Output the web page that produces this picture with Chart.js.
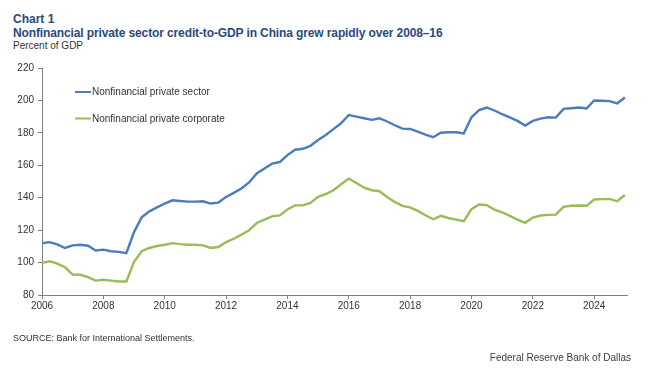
<!DOCTYPE html>
<html>
<head>
<meta charset="utf-8">
<script src="https://cdn.jsdelivr.net/npm/chart.js@4/dist/chart.umd.min.js"></script>
<style>
  html, body { margin: 0; padding: 0; background: #ffffff; }
  body { width: 650px; height: 379px; position: relative; overflow: hidden; font-family: "Liberation Sans", Arial, sans-serif; }
  .t { position: absolute; white-space: nowrap; line-height: 1; }
  #chartNo { left: 13px; top: 13px; font-size: 12px; font-weight: bold; color: #2a4a80; }
  #title { left: 13px; top: 26.7px; font-size: 12px; font-weight: bold; color: #2a4a80; letter-spacing: -0.12px; }
  #unit { left: 13px; top: 41.4px; font-size: 10px; color: #333333; }
  #source { left: 13px; top: 333.6px; font-size: 9px; color: #333333; }
  #credit { right: 19px; top: 353.2px; font-size: 10px; color: #404040; }
  #c { position: absolute; left: 0; top: 0; }
</style>
</head>
<body>
<div class="t" id="chartNo">Chart 1</div>
<div class="t" id="title">Nonfinancial private sector credit-to-GDP in China grew rapidly over 2008–16</div>
<div class="t" id="unit">Percent of GDP</div>
<canvas id="c" width="650" height="379"></canvas>
<div class="t" id="source">SOURCE: Bank for International Settlements.</div>
<div class="t" id="credit">Federal Reserve Bank of Dallas</div>
<script>
const quarters = [
  "2006Q1","2006Q2","2006Q3","2006Q4","2007Q1","2007Q2","2007Q3","2007Q4",
  "2008Q1","2008Q2","2008Q3","2008Q4","2009Q1","2009Q2","2009Q3","2009Q4",
  "2010Q1","2010Q2","2010Q3","2010Q4","2011Q1","2011Q2","2011Q3","2011Q4",
  "2012Q1","2012Q2","2012Q3","2012Q4","2013Q1","2013Q2","2013Q3","2013Q4",
  "2014Q1","2014Q2","2014Q3","2014Q4","2015Q1","2015Q2","2015Q3","2015Q4",
  "2016Q1","2016Q2","2016Q3","2016Q4","2017Q1","2017Q2","2017Q3","2017Q4",
  "2018Q1","2018Q2","2018Q3","2018Q4","2019Q1","2019Q2","2019Q3","2019Q4",
  "2020Q1","2020Q2","2020Q3","2020Q4","2021Q1","2021Q2","2021Q3","2021Q4",
  "2022Q1","2022Q2","2022Q3","2022Q4","2023Q1","2023Q2","2023Q3","2023Q4",
  "2024Q1","2024Q2","2024Q3","2024Q4","2025Q1"
];

const privateSector = [
  112.0, 112.6, 111.2, 109.0, 110.6, 111.0, 110.4, 107.5,
  108.0, 107.0, 106.6, 105.8, 118.8, 128.0, 131.6, 134.0,
  136.4, 138.4, 138.0, 137.6, 137.6, 137.8, 136.4, 137.0,
  140.5, 143.0, 145.7, 149.4, 155.0, 158.0, 161.0, 162.0,
  166.3, 169.6, 170.2, 172.0, 175.6, 178.7, 182.3, 185.9,
  191.0, 190.0, 189.0, 188.0, 189.0, 187.0, 184.7, 182.6,
  182.4, 180.8, 178.9, 177.3, 180.1, 180.4, 180.4, 179.7,
  189.6, 194.1, 195.6, 193.8, 191.5, 189.5, 187.4, 184.5,
  187.4, 188.8, 189.6, 189.4, 194.8, 195.2, 195.6, 195.0,
  200.0, 199.8, 199.6, 198.1, 201.8
];

const privateCorporate = [
  99.8, 100.8, 99.3, 97.1, 92.6, 92.5, 91.0, 88.9,
  89.4, 88.9, 88.3, 88.3, 100.5, 107.0, 109.0, 110.2,
  111.0, 112.0, 111.4, 111.0, 111.0, 110.6, 109.0, 109.6,
  112.6, 114.7, 117.2, 119.9, 124.4, 126.5, 128.5, 129.1,
  132.7, 135.3, 135.3, 136.8, 140.5, 142.2, 144.6, 148.3,
  151.8, 149.1, 146.2, 144.6, 144.0, 140.5, 137.4, 135.0,
  134.0, 131.9, 129.2, 126.7, 128.8, 127.5, 126.5, 125.5,
  132.9, 135.8, 135.4, 132.7, 130.9, 128.8, 126.5, 124.5,
  127.8, 129.0, 129.4, 129.6, 134.4, 135.0, 135.2, 135.0,
  138.9, 139.1, 139.3, 137.8, 141.7
];

const seriesNames = ["Nonfinancial private sector", "Nonfinancial private corporate"];
const xTicks = [2006, 2008, 2010, 2012, 2014, 2016, 2018, 2020, 2022, 2024];
const yTicks = [80, 100, 120, 140, 160, 180, 200, 220];

function quarterToX(q) {
  return parseInt(q.slice(0, 4), 10) + (parseInt(q.slice(5), 10) - 1) / 4;
}
function toPoints(values) {
  return values.map((v, i) => ({ x: quarterToX(quarters[i]), y: v }));
}

const FONT = "'Liberation Sans', Arial, sans-serif";
const AXIS = '#7f7f7f';

const insideLegend = {
  id: 'insideLegend',
  afterDatasetsDraw(chart) {
    const ctx = chart.ctx;
    const a = chart.chartArea;
    ctx.save();
    ctx.font = '10px ' + FONT;
    ctx.textBaseline = 'middle';
    ctx.textAlign = 'left';
    chart.data.datasets.forEach((ds, i) => {
      const y = a.top + 24 + i * 26.5;
      const x0 = a.left + 33;
      ctx.strokeStyle = ds.borderColor;
      ctx.lineWidth = 2;
      ctx.beginPath();
      ctx.moveTo(x0, y);
      ctx.lineTo(x0 + 16, y);
      ctx.stroke();
      ctx.fillStyle = '#333333';
      ctx.fillText(ds.label, x0 + 17, y + 0.5);
    });
    ctx.restore();
  }
};

new Chart(document.getElementById('c'), {
  type: 'line',
  data: {
    datasets: [
      { label: seriesNames[0], data: toPoints(privateSector), borderColor: '#4a7cbf', borderWidth: 2.4, pointRadius: 0, tension: 0, fill: false },
      { label: seriesNames[1], data: toPoints(privateCorporate), borderColor: '#9bbb59', borderWidth: 2.4, pointRadius: 0, tension: 0, fill: false }
    ]
  },
  options: {
    responsive: false,
    animation: false,
    devicePixelRatio: 1,
    layout: { padding: { top: 68, left: 0, right: 23, bottom: 0 } },
    plugins: { legend: { display: false }, tooltip: { enabled: false }, title: { display: false } },
    scales: {
      x: {
        type: 'linear',
        min: 2006,
        max: 2025.07,
        afterBuildTicks: (s) => { s.ticks = xTicks.map(v => ({ value: v })); },
        afterFit: (s) => { s.height = 84; },
        ticks: { font: { family: FONT, size: 10 }, color: '#333333', padding: 1, maxRotation: 0, callback: (v) => String(v) },
        grid: { drawOnChartArea: false, drawTicks: true, tickLength: 4, color: AXIS },
        border: { color: AXIS, width: 1 }
      },
      y: {
        min: 80,
        max: 220,
        afterBuildTicks: (s) => { s.ticks = yTicks.map(v => ({ value: v })); },
        afterFit: (s) => { s.width = 42; },
        ticks: { font: { family: FONT, size: 10 }, color: '#333333', padding: 4, callback: (v) => String(v) },
        grid: { drawOnChartArea: false, drawTicks: true, tickLength: 4, color: AXIS },
        border: { color: AXIS, width: 1 }
      }
    }
  },
  plugins: [insideLegend]
});
</script>
</body>
</html>
